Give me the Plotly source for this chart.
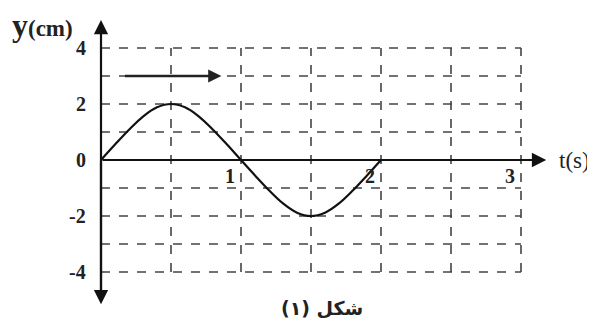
import plotly.graph_objects as go

# data
t_vals = [0, 0.1, 0.2, 0.3, 0.4, 0.5, 0.6, 0.7, 0.8, 0.9, 1.0, 1.1, 1.2, 1.3, 1.4, 1.5, 1.6, 1.7, 1.8, 1.9, 2.0]
y_vals = [0, 0.55, 1.08, 1.55, 1.88, 2.0, 1.88, 1.55, 1.08, 0.55, 0, -0.55, -1.08, -1.55, -1.88, -2.0, -1.88, -1.55, -1.08, -0.55, 0]
x_grid = [0, 0.5, 1, 1.5, 2, 2.5, 3]
y_grid = [-4, -3, -2, -1, 1, 2, 3, 4]
y_tick_vals = [4, 2, 0, -2, -4]
x_tick_vals = [1, 2, 3]
arrow_start, arrow_end, arrow_level = 0.16, 0.86, 3

W, H = 595, 324
OFF = 8  # page body margin
FW, FH = W - OFF, H - OFF
px_per_t, px_per_y = 140, 28
x0_px, y0_px = 101 - OFF, 160 - OFF
xr = [-x0_px / px_per_t, (FW - x0_px) / px_per_t]
yr = [(y0_px - FH) / px_per_y, y0_px / px_per_y]

fig = go.Figure()
fig.add_trace(go.Scatter(x=t_vals, y=y_vals, mode="lines",
                         line=dict(color="#111", width=2.2, shape="spline", smoothing=1.0),
                         hoverinfo="skip", showlegend=False))

shapes = []
grid_style = dict(color="#444", width=1.6, dash="dash")
for gx in x_grid[1:]:
    shapes.append(dict(type="line", x0=gx, x1=gx, y0=-4, y1=4, line=grid_style, layer="below"))
for gy in y_grid:
    shapes.append(dict(type="line", x0=0, x1=3, y0=gy, y1=gy, line=grid_style, layer="below"))
fig.update_layout(shapes=shapes)

serif = "Liberation Serif, Times New Roman, DejaVu Serif, serif"
ann = []
# axes as arrows
ann.append(dict(x=0, y=5.0, ax=0, ay=-4.8, xref="x", yref="y", axref="x", ayref="y",
                showarrow=True, arrowhead=2, arrowsize=1.3, arrowwidth=2.2, arrowcolor="#111", text=""))
ann.append(dict(x=0, y=-5.15, ax=0, ay=0, xref="x", yref="y", axref="x", ayref="y",
                showarrow=True, arrowhead=2, arrowsize=1.3, arrowwidth=2.2, arrowcolor="#111", text=""))
ann.append(dict(x=3.18, y=0, ax=0, ay=0, xref="x", yref="y", axref="x", ayref="y",
                showarrow=True, arrowhead=2, arrowsize=1.3, arrowwidth=2.2, arrowcolor="#111", text=""))
# direction arrow
ann.append(dict(x=arrow_end, y=arrow_level, ax=arrow_start, ay=arrow_level, xref="x", yref="y",
                axref="x", ayref="y", showarrow=True, arrowhead=2, arrowsize=1.1, arrowwidth=2.4,
                arrowcolor="#222", text=""))
# y tick labels
for v in y_tick_vals:
    ann.append(dict(x=-0.09, y=v, xref="x", yref="y", text=f"<b>{v}</b>", showarrow=False,
                    xanchor="right", yanchor="middle", font=dict(family=serif, size=20, color="#222")))
# x tick labels
for v in x_tick_vals:
    ann.append(dict(x=v - 0.03, y=-0.1, xref="x", yref="y", text=f"<b>{v}</b>", showarrow=False,
                    xanchor="right", yanchor="top", font=dict(family=serif, size=20, color="#222")))
for a in ann:
    fig.add_annotation(**a)

# axis titles and caption
fig.add_annotation(x=2 / FW, y=1 - 17 / FH, xref="paper", yref="paper", showarrow=False,
                   xanchor="left", yanchor="middle",
                   text="<b><span style='font-size:32px'>y</span>(cm)</b>",
                   font=dict(family=serif, size=23, color="#222"))
fig.add_annotation(x=3.26, y=0, xref="x", yref="y", showarrow=False, xanchor="left", yanchor="middle",
                   text="t(s)", font=dict(family=serif, size=23, color="#222"))
fig.add_annotation(x=1.58, y=-5.3, xref="x", yref="y", showarrow=False, xanchor="center", yanchor="middle",
                   text="<b>شكل (١)</b>", font=dict(family="DejaVu Sans", size=19, color="#222"))

fig.update_layout(width=FW, height=FH, margin=dict(l=0, r=0, t=0, b=0),
                  paper_bgcolor="white", plot_bgcolor="white",
                  xaxis=dict(range=xr, visible=False, fixedrange=True),
                  yaxis=dict(range=yr, visible=False, fixedrange=True))
fig.write_html("out.html")
